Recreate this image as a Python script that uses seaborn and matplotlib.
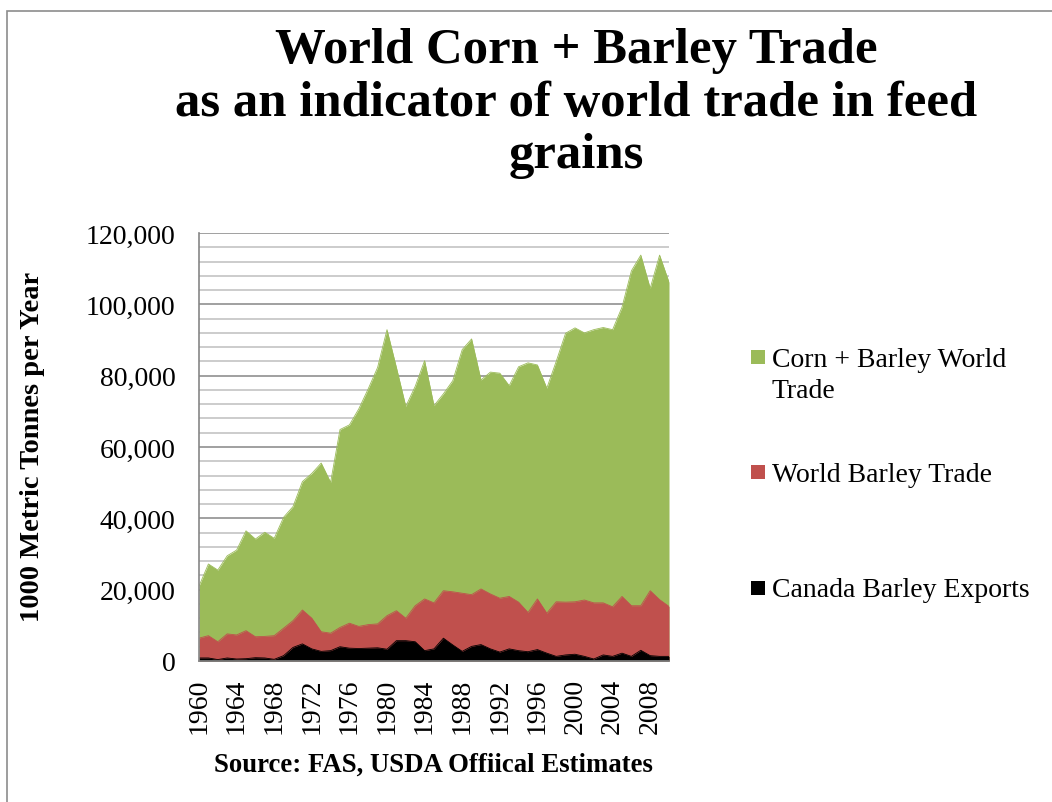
import numpy as np
import pandas as pd
import matplotlib
matplotlib.use("Agg")
import matplotlib.pyplot as plt
from matplotlib.patches import Rectangle
from matplotlib.ticker import MultipleLocator, FuncFormatter
import seaborn as sns

# Trade volumes, 1000 metric tonnes per year
years = list(range(1960, 2011))
corn_barley_world = [
    21000, 27200, 25500, 29500, 31100, 36500, 34200, 36100, 34400, 40300,
    43300, 50300, 52600, 55500, 50100, 64900, 66200, 70700, 76300, 82300,
    92900, 82300, 71400, 77000, 84200, 71600, 74900, 78600, 87300, 90300,
    78800, 81000, 80700, 77200, 82500, 83600, 83000, 76500, 84000, 91900,
    93400, 92000, 92900, 93500, 92900, 99200, 109400, 113800, 104500, 113800,
    106200,
]
world_barley = [
    6400, 7100, 5400, 7600, 7300, 8500, 6800, 6900, 7100, 9200,
    11300, 14300, 12000, 8200, 7800, 9400, 10600, 9700, 10200, 10400,
    12700, 14100, 12000, 15500, 17400, 16300, 19700, 19400, 19000, 18600,
    20200, 18800, 17600, 18100, 16500, 13600, 17400, 13400, 16600, 16500,
    16600, 17100, 16300, 16300, 15200, 18100, 15500, 15500, 19700, 17200,
    15300,
]
canada_barley = [
    850, 850, 400, 850, 560, 650, 930, 850, 470, 1500,
    3800, 4800, 3400, 2700, 2900, 4000, 3600, 3500, 3600, 3700,
    3300, 5700, 5700, 5400, 2900, 3400, 6400, 4500, 2700, 4100,
    4600, 3400, 2500, 3400, 2900, 2600, 3200, 2200, 1300, 1700,
    1900, 1300, 560, 1700, 1300, 2200, 1300, 3000, 1500, 1300,
    1300,
]
series_names = ["Corn + Barley World\nTrade", "World Barley Trade", "Canada Barley Exports"]
series_colors = ["#9BBB59", "#C0504D", "#000000"]
x_tick_years = list(range(1960, 2009, 4))

df = pd.DataFrame({
    "year": years,
    "corn_barley": corn_barley_world,
    "barley": world_barley,
    "canada": canada_barley,
})

sns.set_theme(style="white")
plt.rcParams["font.family"] = ["Liberation Serif", "DejaVu Serif"]
plt.rcParams["text.color"] = "black"
plt.rcParams["xtick.color"] = "black"
plt.rcParams["ytick.color"] = "black"

W, H = 1052, 803
fig = plt.figure(figsize=(W / 100, H / 100), dpi=100)
fig.patch.set_facecolor("white")


def fx(px):
    return px / W


def fy(py):
    return 1 - py / H


# outer chart-area frame
fig.patches.append(Rectangle((fx(7), fy(1000)), 2, fy(12) - fy(1000),
                             transform=fig.transFigure, fill=False,
                             edgecolor="#8C8C8C", lw=1.2, zorder=0))

ax = fig.add_axes([fx(199), fy(662), fx(669) - fx(199), fy(234) - fy(662)])
ax.set_facecolor("white")

cols = ["corn_barley", "barley", "canada"]
for z, (col, color) in enumerate(zip(cols, series_colors)):
    ax.fill_between(df["year"], 0, df[col], color=color, lw=0, zorder=2 + z)
    sns.lineplot(data=df, x="year", y=col, color=color, lw=0.6, ax=ax,
                 zorder=2 + z, legend=False)

ax.set_xlim(1960, 2010)
ax.set_ylim(0, 120000)
ax.yaxis.set_major_locator(MultipleLocator(20000))
ax.yaxis.set_minor_locator(MultipleLocator(4000))
ax.yaxis.set_major_formatter(FuncFormatter(lambda v, p: f"{int(v):,}"))
ax.grid(which="major", axis="y", color="#868686", lw=1.1, zorder=1)
ax.grid(which="minor", axis="y", color="#BFBFBF", lw=1.1, zorder=1)
ax.grid(axis="x", visible=False)
ax.set_axisbelow(True)

ax.set_xticks(x_tick_years)
ax.set_xticklabels([str(y) for y in x_tick_years], rotation=90)
ax.tick_params(axis="x", length=0, pad=12, labelsize=20)
ax.tick_params(axis="y", which="both", length=0, pad=17, labelsize=20)

for side in ["top", "right"]:
    ax.spines[side].set_visible(False)
for side in ["left", "bottom"]:
    ax.spines[side].set_color("#868686")
    ax.spines[side].set_linewidth(1.2)
    ax.spines[side].set_zorder(6)

ax.set_xlabel("")
ax.set_ylabel("")

# titles and axis captions
title_lines = ["World Corn + Barley Trade",
               "as an indicator of world trade in feed",
               "grains"]
for line, base in zip(title_lines, [63, 116, 168]):
    fig.text(fx(576), fy(base), line, ha="center", va="baseline",
             fontsize=36.5, fontweight="bold")

fig.text(fx(33), fy(447), "1000 Metric Tonnes per Year", rotation=90,
         ha="center", va="center", fontsize=20.5, fontweight="bold")
fig.text(fx(433), fy(772), "Source: FAS, USDA Offiical Estimates",
         ha="center", va="baseline", fontsize=19.3, fontweight="bold")

# legend (baseline of the last line of each label)
legend_rows = [(351, 398), (466, 482), (582, 597)]
for name, color, (sq_top, base) in zip(series_names, series_colors, legend_rows):
    fig.patches.append(Rectangle((fx(751), fy(sq_top + 14)), fx(14), fy(sq_top) - fy(sq_top + 14),
                                 transform=fig.transFigure, facecolor=color,
                                 edgecolor="none"))
    fig.text(fx(772), fy(base), name, ha="left", va="baseline", fontsize=20,
             linespacing=1.32)

fig.savefig("out.png", dpi=100, facecolor="white")
